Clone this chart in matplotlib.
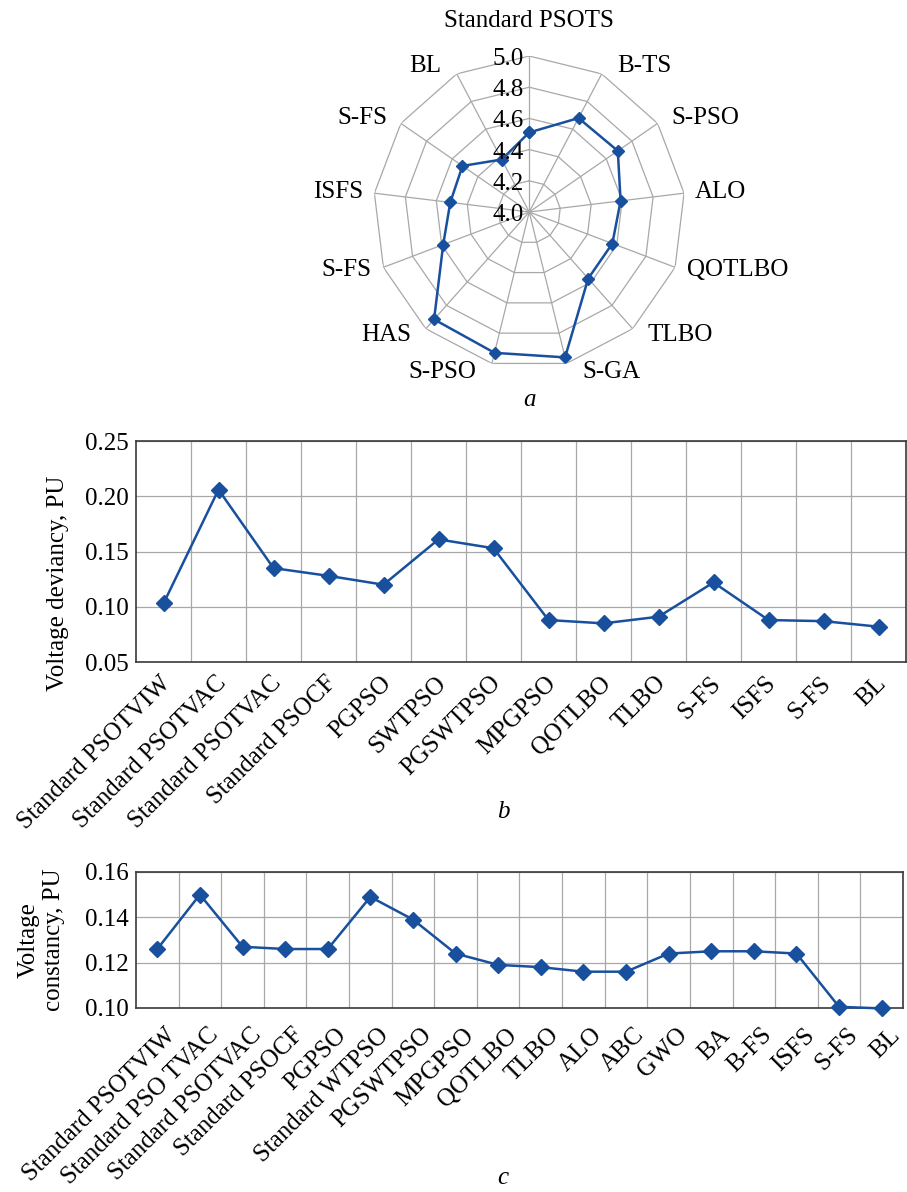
import matplotlib.pyplot as plt
import matplotlib.transforms as mtransforms
import numpy as np

plt.rcParams['font.family'] = 'Liberation Serif'
plt.rcParams['font.size'] = 18

# panel a: radar of objective values
radar_labels = ["Standard PSOTS", "B-TS", "S-PSO", "ALO", "QOTLBO", "TLBO", "S-GA",
                "S-PSO", "HAS", "S-FS", "ISFS", "S-FS", "BL"]
radar_values = [4.51, 4.68, 4.69, 4.59, 4.57, 4.57, 4.96, 4.93, 4.92, 4.59, 4.51, 4.52, 4.38]
radar_ticks = [4.0, 4.2, 4.4, 4.6, 4.8, 5.0]

# panel b: voltage deviancy
dev_labels = ["Standard PSOTVIW", "Standard PSOTVAC", "Standard PSOTVAC", "Standard PSOCF",
              "PGPSO", "SWTPSO", "PGSWTPSO", "MPGPSO", "QOTLBO", "TLBO", "S-FS", "ISFS",
              "S-FS", "BL"]
dev_values = [0.103, 0.206, 0.135, 0.128, 0.120, 0.161, 0.153, 0.088, 0.085, 0.091,
              0.122, 0.088, 0.087, 0.082]
dev_ticks = [0.05, 0.10, 0.15, 0.20, 0.25]

# panel c: voltage constancy
const_labels = ["Standard PSOTVIW", "Standard PSO TVAC", "Standard PSOTVAC", "Standard PSOCF",
                "PGPSO", "Standard WTPSO", "PGSWTPSO", "MPGPSO", "QOTLBO", "TLBO", "ALO",
                "ABC", "GWO", "BA", "B-FS", "ISFS", "S-FS", "BL"]
const_values = [0.126, 0.150, 0.127, 0.126, 0.126, 0.149, 0.139, 0.124, 0.119, 0.118,
                0.116, 0.116, 0.124, 0.125, 0.125, 0.124, 0.1005, 0.0998]
const_ticks = [0.10, 0.12, 0.14, 0.16]

blue = '#18509e'
grid_c = '#a8a8a8'

fig = plt.figure(figsize=(9.07, 11.92), dpi=100)

# ---- radar ----
ax = fig.add_axes([0.4115, 0.6913, 0.344, 0.2617], projection='polar')
ax.set_theta_zero_location('N')
ax.set_theta_direction(-1)
ax.set_ylim(4.0, 5.0)
ax.grid(False)
ax.spines['polar'].set_visible(False)
ax.set_xticks([])
ax.set_yticks([])

n = len(radar_labels)
theta = np.arange(n) * 2 * np.pi / n
closed = np.append(theta, theta[0])
for r in radar_ticks[1:]:
    ax.plot(closed, [r] * (n + 1), color=grid_c, lw=0.9)
for t in theta:
    ax.plot([t, t], [4.0, 5.0], color=grid_c, lw=0.9)

ax.plot(closed, np.append(radar_values, radar_values[0]), color=blue, lw=1.8,
        marker='D', ms=6.5, zorder=3)

for r in radar_ticks:
    ax.annotate(f"{r:.1f}", xy=(0, r), xytext=(-5, -3), textcoords='offset pixels',
                ha='right', va='center', annotation_clip=False, zorder=4)

for t, lab in zip(theta, radar_labels):
    s, c = np.sin(t), np.cos(t)
    if abs(s) < 1e-6:
        ax.annotate(lab, xy=(t, 5.0), xytext=(0, 35), textcoords='offset pixels',
                    ha='center', va='center', annotation_clip=False)
    else:
        ax.annotate(lab, xy=(t, 5.0),
                    xytext=(np.sign(s) * (10 + 6 * abs(c)), 9 * c),
                    textcoords='offset pixels', ha='left' if s > 0 else 'right',
                    va='center', annotation_clip=False)

fig.text(529 / 907, 1 - 400 / 1192, 'a', style='italic', ha='center', va='center')


# ---- line panels ----
def line_panel(rect, labels, values, ticks, shift):
    ax = fig.add_axes(rect)
    x = np.arange(len(labels))
    ax.plot(x, values, color=blue, lw=1.8, marker='D', ms=8, clip_on=False, zorder=3)
    ax.set_xlim(-0.5, len(labels) - 0.5)
    ax.set_ylim(ticks[0], ticks[-1])
    ax.set_yticks(ticks)
    ax.set_yticklabels([f"{v:.2f}" for v in ticks])
    ax.set_xticks(x)
    ax.set_xticklabels(labels, rotation=45, ha='right', va='center', rotation_mode='anchor')
    ax.set_xticks(x[:-1] + 0.5, minor=True)
    ax.grid(which='minor', axis='x', color=grid_c, lw=0.9)
    ax.grid(which='major', axis='y', color=grid_c, lw=0.9)
    ax.set_axisbelow(True)
    ax.tick_params(which='both', length=0)
    ax.tick_params(axis='y', pad=5.5)
    ax.tick_params(axis='x', pad=10)
    # nudge the rotated category labels (pixels)
    off = mtransforms.ScaledTranslation(shift[0] / 100, shift[1] / 100, fig.dpi_scale_trans)
    for lab in ax.get_xticklabels():
        lab.set_transform(lab.get_transform() + off)
    for sp in ax.spines.values():
        sp.set_color('#3a3a3a')
        sp.set_linewidth(1.2)
    return ax


line_panel([136 / 907, 0.4446, 770 / 907, 0.1854], dev_labels, dev_values, dev_ticks, (4, -4))
fig.text(58 / 907, 1 - 583 / 1192, 'Voltage deviancy, PU', rotation=90, ha='center', va='center')
fig.text(503 / 907, 1 - 812 / 1192, 'b', style='italic', ha='center', va='center')

line_panel([136 / 907, 0.1544, 767 / 907, 0.1141], const_labels, const_values, const_ticks, (15, -10))
fig.text(41 / 907, 1 - 940 / 1192, 'Voltage\nconstancy, PU', rotation=90, ha='center',
         va='center', multialignment='center')
fig.text(503 / 907, 1 - 1178 / 1192, 'c', style='italic', ha='center', va='center')

fig.savefig('out.png', dpi=100)
